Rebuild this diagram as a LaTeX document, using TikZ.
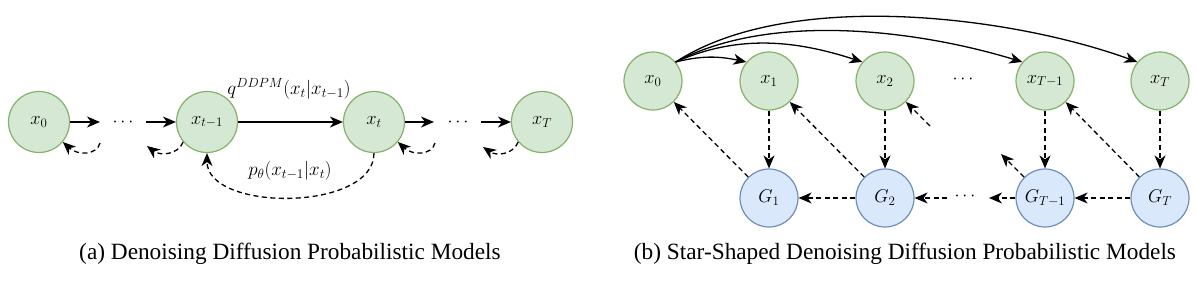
\RequirePackage{fix-cm}
\documentclass[tikz,border=0pt]{standalone}
\usepackage{fontspec}
\setmainfont{Liberation Serif}
\usetikzlibrary{arrows.meta}
\begin{document}
\begin{tikzpicture}[x=1pt,y=1pt,
  every node/.style={inner sep=0pt},
  gnode/.style={circle,draw={rgb,255:red,130;green,179;blue,102},fill={rgb,255:red,213;green,232;blue,212},line width=1.2pt,minimum size=#1,font=\fontsize{18.5}{22}\selectfont},
  bnode/.style={circle,draw={rgb,255:red,108;green,142;blue,191},fill={rgb,255:red,218;green,232;blue,252},line width=1.2pt,minimum size=58pt,font=\fontsize{18.5}{22}\selectfont},
  arr/.style={line width=1.3pt,-{Stealth[length=13pt,width=11pt,inset=4pt]}},
  darr/.style={arr,dash pattern=on 5pt off 3.5pt},
  lbl/.style={font=\fontsize{19}{23}\selectfont},
  dotsty/.style={font=\fontsize{18}{22}\selectfont},
  captxt/.style={font=\fontsize{23.3}{27}\selectfont}
]
\useasboundingbox (0,0) rectangle (1198,-292);
% ---------- (a) ----------
\node[gnode=61pt] (a0) at (39,-122) {$x_0$};
\node[gnode=61pt] (a1) at (207,-122) {$x_{t-1}$};
\node[gnode=61pt] (a2) at (374,-122) {$x_t$};
\node[gnode=61pt] (a3) at (542,-122) {$x_T$};
\coordinate (ad1l) at (100,-122);
\coordinate (ad1r) at (146,-122);
\coordinate (ad2l) at (434,-122);
\coordinate (ad2r) at (481,-122);
\node[dotsty] (adots1) at (123,-122) {$\cdots$};
\node[dotsty] (adots2) at (458,-122) {$\cdots$};
\draw[arr] (a0) -- (ad1l);
\draw[arr] (ad1r) -- (a1);
\draw[arr] (a1) -- (a2);
\draw[arr] (a2) -- (ad2l);
\draw[arr] (ad2r) -- (a3);
\node[lbl] (qlab) at (289,-89) {$q^{DDPM}(x_t|x_{t-1})$};
\node[lbl] (plab) at (290,-171) {$p_\theta(x_{t-1}|x_t)$};
\draw[darr] (a2.south) .. controls (374,-212) and (207,-212) .. (a1.south);
% small returns
\coordinate (r1) at (100,-143);
\coordinate (r2) at (147,-146);
\coordinate (r3) at (435,-143);
\coordinate (r4) at (483,-147);
\draw[darr] (r1) .. controls (97,-155) and (78,-156) .. (a0.-40);
\draw[darr] (a1.-140) .. controls (178,-155) and (160,-156) .. (r2);
\draw[darr] (r3) .. controls (432,-155) and (413,-156) .. (a2.-40);
\draw[darr] (a3.-140) .. controls (513,-155) and (496,-156) .. (r4);
% ---------- (b) ----------
\node[gnode=58pt] (b0) at (653,-81) {$x_0$};
\node[gnode=58pt] (b1) at (769,-81) {$x_1$};
\node[gnode=58pt] (b2) at (885,-81) {$x_2$};
\node[gnode=58pt] (b3) at (1045,-81) {$x_{T-1}$};
\node[gnode=58pt] (b4) at (1160,-81) {$x_T$};
\node[bnode] (g1) at (769,-198) {$G_1$};
\node[bnode] (g2) at (885,-198) {$G_2$};
\node[bnode] (g3) at (1045,-198) {$G_{T-1}$};
\node[bnode] (g4) at (1160,-198) {$G_T$};
\node[dotsty] (bdots1) at (963,-79) {$\cdots$};
\node[dotsty] (bdots2) at (965,-196) {$\cdots$};
\draw[arr] (b0.40) to[out=14,in=168] (b1.140);
\draw[arr] (b0.40) to[out=24,in=162,looseness=0.95] (b2.140);
\draw[arr] (b0.40) to[out=28,in=163,looseness=0.8] (b3.140);
\draw[arr] (b0.40) to[out=33,in=160,looseness=0.75] (b4.140);
\draw[darr] (b1) -- (g1);
\draw[darr] (b2) -- (g2);
\draw[darr] (b3) -- (g3);
\draw[darr] (b4) -- (g4);
\draw[darr] (g1) -- (b0);
\draw[darr] (g2) -- (b1);
\draw[darr] (g4) -- (b3);
\coordinate (p1) at (930,-126);
\coordinate (p2) at (1001,-154);
\draw[darr] (p1) -- (b2);
\draw[darr] (g3.135) -- (p2);
\draw[darr] (g2) -- (g1);
\draw[darr] (g4) -- (g3);
\coordinate (h1) at (947,-198);
\coordinate (h2) at (989,-198);
\draw[darr] (h1) -- (g2);
\draw[darr] (g3) -- (h2);
% captions
\node[captxt] (capa) at (290,-254) {(a) Denoising Diffusion Probabilistic Models};
\node[captxt] (capb) at (905,-254) {(b) Star-Shaped Denoising Diffusion Probabilistic Models};
\end{tikzpicture}
\end{document}
